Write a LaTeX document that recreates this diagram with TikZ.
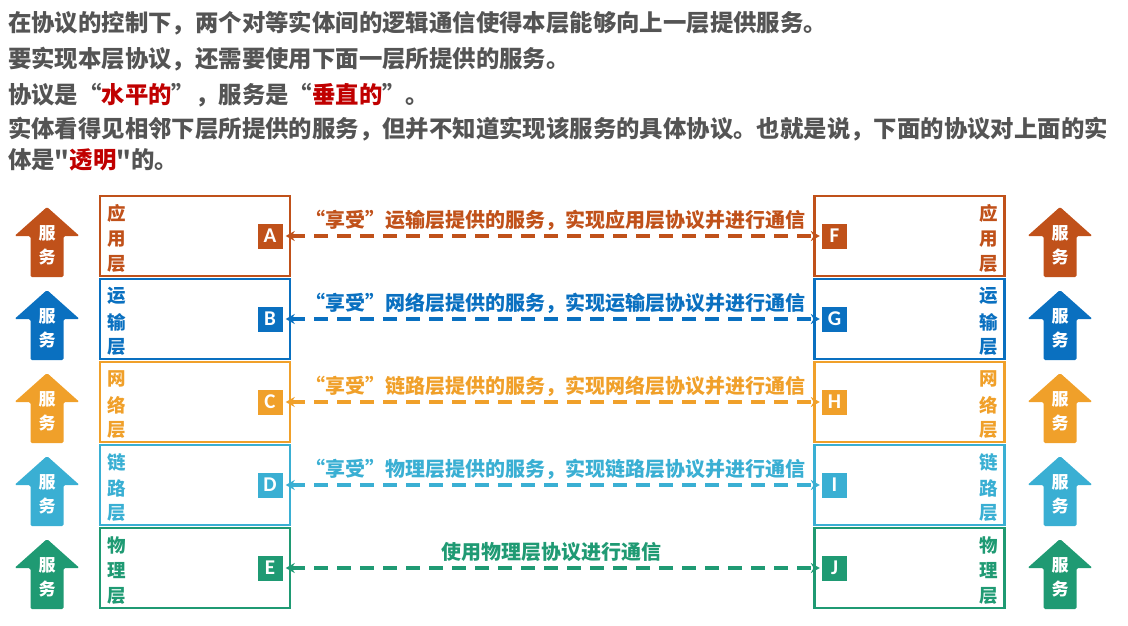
\documentclass[tikz,border=0pt]{standalone}
\usepackage{fontspec}
\usetikzlibrary{arrows.meta}
\newfontfamily\cjk{Noto Sans CJK SC}
\newfontfamily\latn{Carlito}
\definecolor{cA}{RGB}{192,81,26}
\definecolor{cB}{RGB}{10,112,192}
\definecolor{cC}{RGB}{240,160,42}
\definecolor{cD}{RGB}{58,175,211}
\definecolor{cE}{RGB}{31,154,115}
\definecolor{headgray}{RGB}{84,84,84}
\definecolor{hred}{RGB}{192,0,0}
\newcommand{\myRQ}{\makebox[1em][l]{”}}
\tikzset{
  head/.style={anchor=west, inner sep=0pt, text=headgray, font=\cjk\bfseries\fontsize{23.4}{28}\selectfont},
  layerbox/.style={draw=#1, line width=2.8pt, minimum width=190pt, minimum height=80pt, inner sep=0pt},
  lettersq/.style={fill=#1, minimum size=25pt, inner sep=0pt, text=white, font=\latn\bfseries\fontsize{21}{21}\selectfont},
  layerch/.style={text=#1, inner sep=0pt, font=\cjk\bfseries\fontsize{18.5}{20}\selectfont},
  svcch/.style={text=white, inner sep=0pt, font=\cjk\bfseries\fontsize{17}{18}\selectfont},
  conn/.style={draw=#1, line width=3.4pt, dash pattern=on 14pt off 9pt, {Stealth[length=9pt,width=10pt]}-{Stealth[length=9pt,width=10pt]}, shorten <=3pt, shorten >=2pt},
  connlabel/.style={text=#1, inner sep=0pt, font=\cjk\bfseries\fontsize{20}{20}\selectfont},
  svcarrow/.style={fill=#1, draw=none, rounded corners=1.5pt}
}
\begin{document}
\begin{tikzpicture}[x=1pt,y=-1pt]
\useasboundingbox (0,0) rectangle (1128,626);
\node[head] (h1) at (8,23) {在协议的控制下，两个对等实体间的逻辑通信使得本层能够向上一层提供服务。};
\node[head] (h2) at (8,59) {要实现本层协议，还需要使用下面一层所提供的服务。};
\node[head] (h3) at (8,95) {协议是“\textcolor{hred}{水平的}”，服务是“\textcolor{hred}{垂直的}”。};
\node[head] (h4) at (8,129) {实体看得见相邻下层所提供的服务，但并不知道实现该服务的具体协议。也就是说，下面的协议对上面的实};
\node[head] (h5) at (8,160) {体是"\textcolor{hred}{透明}"的。};
\foreach \i/\c/\ta/\tb/\tc/\L/\R/\lx/\lab in {
  1/cA/应/用/层/A/F/555/{“享受\myRQ 运输层提供的服务，实现应用层协议并进行通信},
  2/cB/运/输/层/B/G/555/{“享受\myRQ 网络层提供的服务，实现运输层协议并进行通信},
  3/cC/网/络/层/C/H/555/{“享受\myRQ 链路层提供的服务，实现网络层协议并进行通信},
  4/cD/链/路/层/D/I/555/{“享受\myRQ 物理层提供的服务，实现链路层协议并进行通信},
  5/cE/物/理/层/E/J/551/{使用物理层协议进行通信}}{
  \pgfmathsetmacro\t{196+83*(\i-1)}
  \node[layerbox=\c] (lb\i) at (195,\t+40) {};
  \node[layerbox=\c] (rb\i) at (909.5,\t+40) {};
  \node[lettersq=\c] (ls\i) at (270,\t+40) {\L};
  \node[lettersq=\c] (rs\i) at (834.5,\t+40) {\R};
  \draw[conn=\c] (ls\i) -- (rs\i);
  \node[connlabel=\c] (cl\i) at (\lx,\t+24) {\lab};
  \node[layerch=\c] (la\i) at (117,\t+17) {\ta};
  \node[layerch=\c] (lb2\i) at (117,\t+43) {\tb};
  \node[layerch=\c] (lc\i) at (117,\t+68) {\tc};
  \node[layerch=\c] (ra\i) at (989,\t+17) {\ta};
  \node[layerch=\c] (rb2\i) at (989,\t+43) {\tb};
  \node[layerch=\c] (rc\i) at (989,\t+68) {\tc};
  \foreach \cx/\s in {47/l,1060/r}{
    \fill[svcarrow=\c] (\cx,\t+11) -- (\cx+32.5,\t+40) -- (\cx+16.5,\t+40) -- (\cx+16.5,\t+81) -- (\cx-16.5,\t+81) -- (\cx-16.5,\t+40) -- (\cx-32.5,\t+40) -- cycle;
    \node[svcch] (\s sa\i) at (\cx,\t+37) {服};
    \node[svcch] (\s sb\i) at (\cx,\t+61) {务};
  }
}
\end{tikzpicture}
\end{document}
